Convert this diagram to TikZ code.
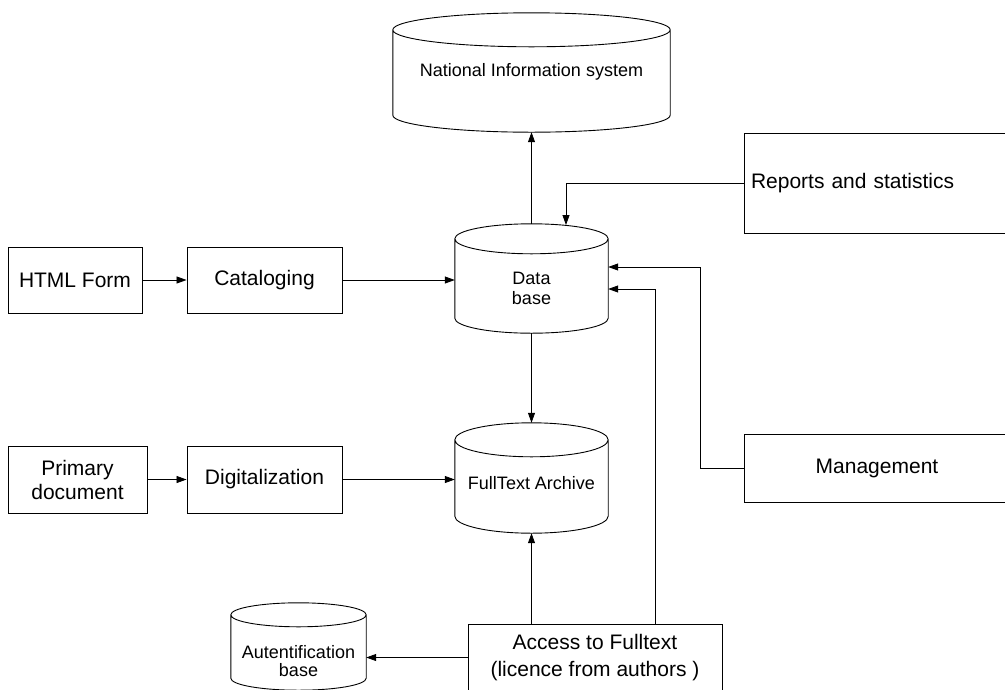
\documentclass[tikz,border=0pt]{standalone}
\usepackage{fontspec}
\setmainfont{Liberation Sans}
\usetikzlibrary{arrows.meta,calc}
\newcommand\drawcan[2]{%
  \draw[ln] let \p1=(#1.north west), \p2=(#1.south east), \n1={(\x2-\x1)/2} in
    (\x1,\y1-#2pt) arc[start angle=180,end angle=0,x radius=\n1,y radius=#2pt]
    -- (\x2,\y2+#2pt) arc[start angle=0,end angle=-180,x radius=\n1,y radius=#2pt] -- cycle
    (\x1,\y1-#2pt) arc[start angle=180,end angle=360,x radius=\n1,y radius=#2pt];}
\begin{document}
\begin{tikzpicture}[x=1pt,y=-1pt,
  ln/.style={line width=0.9pt},
  box/.style={draw,ln,inner sep=0pt,align=center,font=\fontsize{21pt}{24pt}\selectfont},
  can/.style={inner sep=0pt},
  cantext/.style={align=center,inner sep=0pt,font=\fontsize{18pt}{20pt}\selectfont},
  arr/.style={line width=0.8pt,-{Triangle[length=10pt,width=7pt]}}]
\useasboundingbox (0,0) rectangle (1005,689);
\clip (0,0) rectangle (1005,689);
% boxes
\node[box,minimum width=134pt,minimum height=66pt] (html) at (75,280) {HTML Form};
\node[box,minimum width=155pt,minimum height=66pt] (cat) at (264.5,280) {Cataloging};
\node[box,minimum width=139pt,minimum height=67pt] (prim) at (77.5,479.5) {Primary\\document};
\node[box,minimum width=155pt,minimum height=67pt] (dig) at (264.5,479.5) {Digitalization};
\node[box,minimum width=266pt,minimum height=100pt,inner xsep=7pt,text width=252pt,align=left] (rep) at (877,183) {Reports and statistics};
\node[box,minimum width=266pt,minimum height=68pt] (man) at (877,468) {Management};
\node[box,minimum width=254pt,minimum height=67pt,font=\fontsize{21pt}{27pt}\selectfont] (acc) at (595,657.5) {Access to Fulltext\\(licence from authors )};
% cylinders
\node[can,minimum width=277pt,minimum height=119pt] (nis) at (531.5,72.5) {};
\drawcan{nis}{17}
\node[cantext] (nist) at (531.5,72) {National Information system};
\node[can,minimum width=153pt,minimum height=109pt] (db) at (531.5,278.5) {};
\drawcan{db}{15}
\node[cantext] (dbt) at (531.5,288) {Data\\base};
\node[can,minimum width=153pt,minimum height=110pt] (fta) at (531.5,478) {};
\drawcan{fta}{17}
\node[cantext] (ftat) at (531.5,483) {FullText Archive};
\node[can,minimum width=135pt,minimum height=87pt] (auth) at (298.5,646.5) {};
\drawcan{auth}{12}
\node[cantext,font=\fontsize{18pt}{18pt}\selectfont] (autht) at (298.5,661.5) {Autentification\\base};
% connectors
\coordinate (dbin) at (566,225);
\coordinate (m1) at (700,267);
\coordinate (a1) at (655,289);
\draw[arr] (html) -- (cat);
\draw[arr] (cat.east) -- (cat.east -| db.west);
\draw[arr] (prim) -- (dig);
\draw[arr] (dig.east) -- (dig.east -| fta.west);
\draw[arr] (db.north) -- (nis.south);
\draw[arr] (db.south) -- (fta.north);
\draw[arr] (acc.north -| fta.south) -- (fta.south);
\draw[arr] (acc.west) -- (acc.west -| auth.east);
\draw[arr] (rep.west) -| (dbin);
\draw[arr] (man.west) -| (m1) -- (m1 -| db.east);
\draw[arr] (a1 |- acc.north) -- (a1) -- (a1 -| db.east);
\end{tikzpicture}
\end{document}
